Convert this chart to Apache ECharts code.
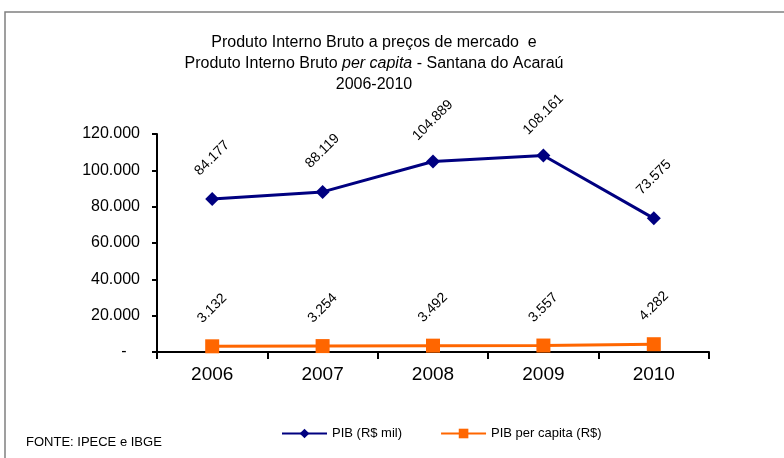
<!DOCTYPE html>
<html>
<head>
<meta charset="utf-8">
<script src="https://cdn.jsdelivr.net/npm/echarts@6/dist/echarts.min.js"></script>
<style>
  html, body { margin: 0; padding: 0; background: #fff; }
  #container { width: 784px; height: 458px; }
</style>
</head>
<body>
<div id="container"></div>
<script>
var anos = ['2006', '2007', '2008', '2009', '2010'];
var pib = [84177, 88119, 104889, 108161, 73575];
var pibPerCapita = [3132, 3254, 3492, 3557, 4282];

function fmt(v) {
    return String(v).replace(/\B(?=(\d{3})+(?!\d))/g, '.');
}

var dom = document.getElementById('container');
var myChart = echarts.init(dom);
var fonte = 'Liberation Sans, Arial, sans-serif';

var option = {
    animation: false,
    textStyle: { fontFamily: fonte, color: '#000' },
    graphic: [
        {
            type: 'rect',
            shape: { x: 5, y: 12, width: 820, height: 500 },
            style: { fill: null, stroke: '#808080', lineWidth: 1.5 },
            silent: true
        },
        {
            type: 'text',
            x: 374, y: 32,
            style: {
                text: '{a|Produto Interno Bruto a preços de mercado  e}\n{a|Produto Interno Bruto }{i|per capita}{a| - Santana do Acaraú}\n{a|2006-2010}',
                align: 'center',
                rich: {
                    a: { fontSize: 16, fontFamily: fonte, lineHeight: 21, fill: '#000' },
                    i: { fontSize: 16, fontFamily: fonte, fontStyle: 'italic', lineHeight: 21, fill: '#000' }
                }
            }
        },
        {
            type: 'text',
            x: 26, y: 436,
            style: { text: 'FONTE: IPECE e IBGE', fontSize: 13, fontFamily: fonte, fill: '#000' }
        }
    ],
    legend: {
        left: 276,
        top: 422,
        itemWidth: 45,
        itemHeight: 12,
        itemGap: 38,
        textStyle: { fontSize: 13, fontFamily: fonte, color: '#000' },
        data: ['PIB (R$ mil)', 'PIB per capita (R$)']
    },
    grid: { left: 157, right: 75, top: 134, bottom: 106 },
    xAxis: {
        type: 'category',
        data: anos,
        boundaryGap: true,
        axisLine: { lineStyle: { color: '#000', width: 2 } },
        axisTick: { show: true, length: 7, lineStyle: { color: '#000', width: 2 } },
        axisLabel: { fontSize: 19, color: '#000', margin: 13 }
    },
    yAxis: {
        type: 'value',
        min: 0,
        max: 120000,
        interval: 20000,
        axisLine: { show: true, lineStyle: { color: '#000', width: 2 } },
        axisTick: { show: true, length: 5, lineStyle: { color: '#000', width: 2 } },
        splitLine: { show: false },
        axisLabel: {
            fontSize: 16,
            color: '#000',
            margin: 17,
            formatter: function (v) { return v === 0 ? '-   ' : fmt(v); }
        }
    },
    series: [
        {
            name: 'PIB (R$ mil)',
            type: 'line',
            data: pib,
            symbol: 'diamond',
            symbolSize: 14,
            itemStyle: { color: '#000080' },
            lineStyle: { color: '#000080', width: 3 },
            label: {
                show: true,
                position: 'top',
                distance: 34,
                rotate: 45,
                align: 'center',
                verticalAlign: 'middle',
                fontSize: 14,
                color: '#000',
                formatter: function (p) { return fmt(p.value); }
            }
        },
        {
            name: 'PIB per capita (R$)',
            type: 'line',
            data: pibPerCapita,
            symbol: 'rect',
            symbolSize: 14,
            itemStyle: { color: '#FF6600' },
            lineStyle: { color: '#FF6600', width: 3 },
            label: {
                show: true,
                position: 'top',
                distance: 31,
                rotate: 45,
                align: 'center',
                verticalAlign: 'middle',
                fontSize: 14,
                color: '#000',
                formatter: function (p) { return fmt(p.value); }
            }
        }
    ]
};

if (option && typeof option === 'object') {
    myChart.setOption(option, true);
}
</script>
</body>
</html>
